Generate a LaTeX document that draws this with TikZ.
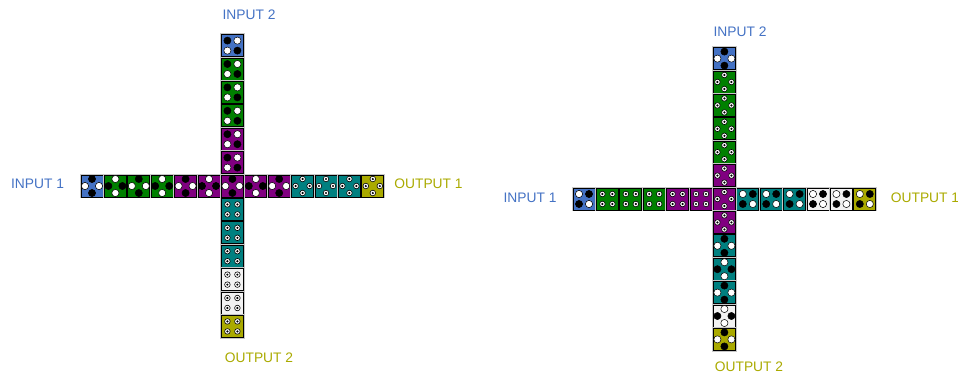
\documentclass[tikz,border=0pt]{standalone}
\usepackage{fontspec}
\setmainfont{Liberation Sans}
\definecolor{tblue}{RGB}{68,114,196}
\definecolor{tgreen}{RGB}{0,128,0}
\definecolor{tpurple}{RGB}{128,0,128}
\definecolor{tteal}{RGB}{0,128,128}
\definecolor{tolive}{RGB}{170,170,0}
\definecolor{twhite}{RGB}{242,242,242}
% one cell: #1,#2 top left, #3 fill, #4 dots top/bottom, #5 dots left/right
\newcommand{\crosscell}[5]{%
  \draw[cellshade] (#1,#2) rectangle ++(22,22);
  \draw[cell, fill=#3] (#1,#2) rectangle ++(22,22);
  \pic at (#1+11,#2+4) {dot#4};
  \pic at (#1+11,#2+18) {dot#4};
  \pic at (#1+4,#2+11) {dot#5};
  \pic at (#1+18,#2+11) {dot#5};
}
% one cell with corner dots: #4 top left/bottom right, #5 top right/bottom left
\newcommand{\cornercell}[5]{%
  \draw[cellshade] (#1,#2) rectangle ++(22,22);
  \draw[cell, fill=#3] (#1,#2) rectangle ++(22,22);
  \pic at (#1+6,#2+6) {dot#4};
  \pic at (#1+16,#2+16) {dot#4};
  \pic at (#1+16,#2+6) {dot#5};
  \pic at (#1+6,#2+16) {dot#5};
}
\begin{document}
\begin{tikzpicture}[x=1pt, y=-1pt,
  cell/.style={draw=black, line width=0.9pt},
  cellshade/.style={draw=black!22, line width=2.6pt},
  dotb/.pic={\draw[fill=black, line width=0.5pt] (0,0) circle (3.6);},
  dotw/.pic={\draw[fill=white, line width=0.5pt] (0,0) circle (3.6);},
  dotr/.pic={\draw[fill=white, line width=0.6pt] (0,0) circle (2.8); \fill (0,0) circle (1.2);},
  inlab/.style={text=tblue, font=\fontsize{13.8}{16}\selectfont},
  outlab/.style={text=tolive, font=\fontsize{13.8}{16}\selectfont}]
  \useasboundingbox (0,0) rectangle (958,376);
  % left cross, horizontal arm
  \foreach \c/\a/\b [count=\i from 0] in {tblue/b/w, tgreen/w/b, tgreen/b/w, tgreen/w/b,
      tpurple/b/w, tpurple/w/b, tpurple/b/w, tpurple/w/b, tpurple/b/w,
      tteal/r/r, tteal/r/r, tteal/r/r, tolive/r/r}
    \crosscell{81+\i*23.4}{175}{\c}{\a}{\b};
  % left cross, vertical arm
  \foreach \i/\c in {-6/tblue, -5/tgreen, -4/tgreen, -3/tgreen, -2/tpurple, -1/tpurple,
      1/tteal, 2/tteal, 3/tteal, 4/twhite, 5/twhite, 6/tolive}
    {\ifnum\i<0 \cornercell{221.4}{175+\i*23.4}{\c}{b}{w}\else
      \cornercell{221.4}{175+\i*23.4}{\c}{r}{r}\fi}
  \crosscell{221.4}{175}{tpurple}{b}{w}
  % right cross, horizontal arm
  \foreach \i/\c/\a/\b in {0/tblue/w/b, 1/tgreen/r/r, 2/tgreen/r/r, 3/tgreen/r/r,
      4/tpurple/r/r, 5/tpurple/r/r, 7/tteal/w/b, 8/tteal/w/b, 9/tteal/w/b,
      10/twhite/w/b, 11/twhite/w/b, 12/tolive/w/b}
    \cornercell{573+\i*23.4}{188}{\c}{\a}{\b};
  % right cross, vertical arm
  \foreach \c/\a/\b [count=\i from -6] in {tblue/b/w, tgreen/r/r, tgreen/r/r, tgreen/r/r,
      tgreen/r/r, tpurple/r/r, tpurple/r/r, tpurple/r/r, tteal/b/w, tteal/w/b,
      tteal/b/w, twhite/w/b, tolive/b/w}
    \crosscell{713.4}{188+\i*23.4}{\c}{\a}{\b};
  % labels
  \node[inlab] (inA1) at (37.5,184) {INPUT 1};
  \node[inlab] (inA2) at (249,15) {INPUT 2};
  \node[outlab] (outA1) at (428.5,184) {OUTPUT 1};
  \node[outlab] (outA2) at (259,358) {OUTPUT 2};
  \node[inlab] (inB1) at (530,198) {INPUT 1};
  \node[inlab] (inB2) at (740,32) {INPUT 2};
  \node[outlab] (outB1) at (925,198) {OUTPUT 1};
  \node[outlab] (outB2) at (749,367) {OUTPUT 2};
\end{tikzpicture}
\end{document}
